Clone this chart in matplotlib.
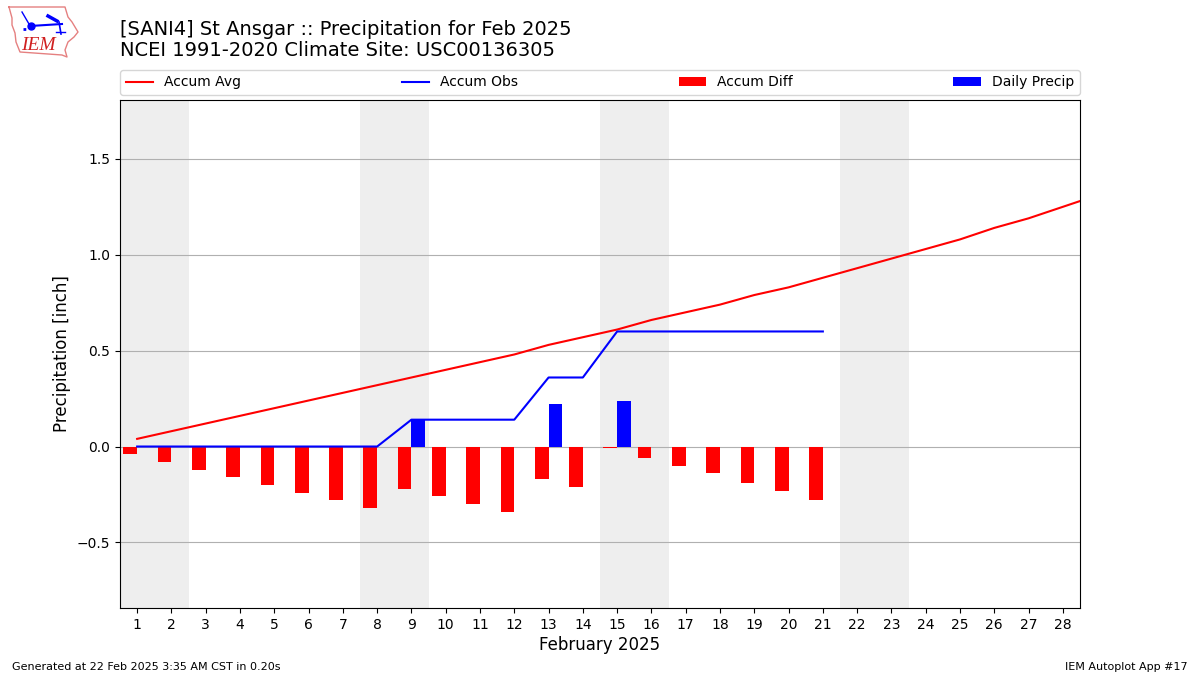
import numpy as np
import matplotlib
matplotlib.use('Agg')
import matplotlib.pyplot as plt

days = list(range(1, 30))
accum_avg = [0.04, 0.08, 0.12, 0.16, 0.20, 0.24, 0.28, 0.32, 0.36, 0.40,
             0.44, 0.48, 0.53, 0.57, 0.61, 0.66, 0.70, 0.74, 0.79, 0.83,
             0.88, 0.93, 0.98, 1.03, 1.08, 1.14, 1.19, 1.25, 1.31]
obs_days = list(range(1, 22))
accum_obs = [0, 0, 0, 0, 0, 0, 0, 0, 0.14, 0.14, 0.14, 0.14, 0.36, 0.36,
             0.60, 0.60, 0.60, 0.60, 0.60, 0.60, 0.60]
accum_diff = [-0.04, -0.08, -0.12, -0.16, -0.20, -0.24, -0.28, -0.32, -0.22,
              -0.26, -0.30, -0.34, -0.17, -0.21, -0.008, -0.06, -0.10, -0.14,
              -0.19, -0.23, -0.28]
daily_precip = [0, 0, 0, 0, 0, 0, 0, 0, 0.14, 0, 0, 0, 0.22, 0, 0.24, 0, 0, 0, 0, 0, 0]
weekends = [(0.5, 2.5), (7.5, 9.5), (14.5, 16.5), (21.5, 23.5)]
iowa_x = [9, 65, 68, 72, 78, 74, 68, 65, 67, 62, 20, 16, 15, 12, 12, 9]
iowa_y = [7, 7, 17, 22, 32, 37, 42, 50, 57, 55, 52, 42, 33, 25, 18, 7]

fig = plt.figure(figsize=(12, 6.75), dpi=100)
ax = fig.add_axes([120 / 1200, 1 - 608 / 675, 960 / 1200, 508 / 675])

for start, end in weekends:
    ax.axvspan(start, end, color='#eeeeee', zorder=1, lw=0)

ax.plot(days, accum_avg, color='r', label='Accum Avg', zorder=4)
ax.plot(obs_days, accum_obs, color='b', label='Accum Obs', zorder=4)
ax.bar(np.array(obs_days) - 0.2, accum_diff, width=0.4, color='r', label='Accum Diff', zorder=3)
ax.bar(np.array(obs_days) + 0.2, daily_precip, width=0.4, color='b', label='Daily Precip', zorder=3)

ax.set_xlim(0.5, 28.5)
ax.set_ylim(-0.842, 1.807)
ax.set_xticks(range(1, 29))
ax.set_yticks([-0.5, 0, 0.5, 1.0, 1.5])
ax.grid(axis='y', color='#b0b0b0')
ax.set_xlabel('February 2025', fontsize=12, labelpad=3)
ax.set_ylabel('Precipitation [inch]', fontsize=12, labelpad=4)
ax.legend(loc='lower left', bbox_to_anchor=(0, 1.01, 1, 0.05), ncol=4, mode='expand',
          borderaxespad=0, fontsize=10)

fig.text(120 / 1200, 1 - 29.5 / 675, '[SANI4] St Ansgar :: Precipitation for Feb 2025',
         fontsize=14, va='center')
fig.text(120 / 1200, 1 - 51 / 675, 'NCEI 1991-2020 Climate Site: USC00136305',
         fontsize=14, va='center')
fig.text(12 / 1200, 1 - 667 / 675, 'Generated at 22 Feb 2025 3:35 AM CST in 0.20s', fontsize=8, va='center')
fig.text(1188 / 1200, 1 - 667 / 675, 'IEM Autoplot App #17', fontsize=8, va='center', ha='right')

# logo, in pixel coordinates
logo = fig.add_axes([0, 1 - 70 / 675, 130 / 1200, 70 / 675])
logo.set_xlim(0, 130)
logo.set_ylim(70, 0)
logo.axis('off')
logo.plot(iowa_x, iowa_y, color='#e58080', lw=1)
logo.plot([30, 62], [26, 24], color='b', lw=1.5)
logo.plot([31], [26], 'o', color='b', ms=5)
logo.plot([22, 29], [12, 24], color='b', lw=1)
logo.plot([48, 57], [16, 21], color='b', lw=2.5)
logo.plot([59, 61], [22, 34], color='b', lw=1.2)
logo.plot([56, 65], [32, 32], color='b', lw=1)
logo.plot([23, 26], [29, 29], color='b', lw=2, ls=':')
logo.text(21, 45, 'IEM', color='#d02020', fontsize=14, family='Liberation Serif',
          style='italic', va='center')

fig.savefig('out.png', dpi=100)
